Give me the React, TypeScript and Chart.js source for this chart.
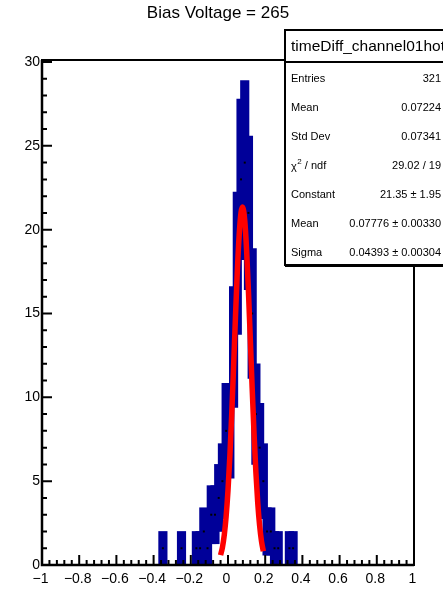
import { useEffect, useRef } from "react";
import { Chart, registerables } from "chart.js";

Chart.register(...registerables);

// ---------- data ----------
const chartTitle = "Bias Voltage = 265";
const histName = "timeDiff_channel01hot";

// histogram bins (centre of bin, entries)
const binCenters = [
  -0.35, -0.25, -0.17, -0.15, -0.13, -0.11, -0.09, -0.07, -0.05, -0.03, -0.01,
  0.01, 0.03, 0.05, 0.07, 0.09, 0.11, 0.13, 0.15, 0.17, 0.19,
  0.21, 0.23, 0.25, 0.27, 0.33, 0.35,
];
const binCounts = [
  1, 1, 1, 1, 2, 1, 3, 3, 4, 5, 8,
  8, 13, 18, 23, 24, 21, 15, 9, 7, 5,
  2, 2, 1, 1, 1, 1,
];

// gaussian fit curve
const fitX = [
  -0.04, -0.03, -0.02, -0.01, 0.0, 0.01, 0.02, 0.03, 0.04, 0.05, 0.06, 0.07,
  0.078, 0.09, 0.1, 0.11, 0.12, 0.13, 0.14, 0.15, 0.16, 0.17, 0.18, 0.19,
];
const fitY = [
  0.59, 1.05, 1.8, 2.9, 4.46, 6.49, 8.99, 11.82, 14.75, 17.49, 19.67, 21.02,
  21.35, 20.54, 18.78, 16.31, 13.45, 10.53, 7.82, 5.52, 3.7, 2.35, 1.42, 0.82,
];

const xMajorTicks = [-1, -0.8, -0.6, -0.4, -0.2, 0, 0.2, 0.4, 0.6, 0.8, 1];
const xTickLabels = ["\u22121", "\u22120.8", "\u22120.6", "\u22120.4", "\u22120.2", "0", "0.2", "0.4", "0.6", "0.8", "1"];
const yMajorTicks = [0, 5, 10, 15, 20, 25, 30];
const yTickLabels = ["0", "5", "10", "15", "20", "25", "30"];

const statLabels = ["Entries", "Mean", "Std Dev", "CHI2", "Constant", "Mean", "Sigma"];
const statValues = ["321", "0.07224", "0.07341", "29.02 / 19", "21.35 \u00b1 1.95", "0.07776 \u00b1 0.00330", "0.04393 \u00b1 0.00304"];

const FONT = '"Liberation Sans", Arial, Helvetica, sans-serif';

const overlay = {
  id: "rootOverlay",
  afterDraw(chart: any) {
    const { ctx, chartArea: a, scales } = chart;
    const xs = scales.x;
    const ys = scales.y;
    ctx.save();
    ctx.strokeStyle = "#000";
    ctx.fillStyle = "#000";
    ctx.lineCap = "butt";

    // frame
    ctx.lineWidth = 2;
    ctx.strokeRect(a.left, a.top, a.right - a.left, a.bottom - a.top);
    ctx.lineWidth = 2.5;
    ctx.beginPath();
    ctx.moveTo(a.left, a.top);
    ctx.lineTo(a.left, a.bottom);
    ctx.lineTo(a.right, a.bottom);
    ctx.stroke();

    // x ticks
    ctx.lineWidth = 2;
    ctx.beginPath();
    for (let i = 0; i < xMajorTicks.length; i++) {
      const px = xs.getPixelForValue(xMajorTicks[i]);
      ctx.moveTo(px, a.bottom);
      ctx.lineTo(px, a.bottom - 10);
      if (i < xMajorTicks.length - 1) {
        const step = (xMajorTicks[i + 1] - xMajorTicks[i]) / 5;
        for (let k = 1; k < 5; k++) {
          const mx = xs.getPixelForValue(xMajorTicks[i] + k * step);
          ctx.moveTo(mx, a.bottom);
          ctx.lineTo(mx, a.bottom - 5);
        }
      }
    }
    // y ticks
    for (let i = 0; i < yMajorTicks.length; i++) {
      const py = ys.getPixelForValue(yMajorTicks[i]);
      ctx.moveTo(a.left, py);
      ctx.lineTo(a.left + 10, py);
      if (i < yMajorTicks.length - 1) {
        const step = (yMajorTicks[i + 1] - yMajorTicks[i]) / 5;
        for (let k = 1; k < 5; k++) {
          const my = ys.getPixelForValue(yMajorTicks[i] + k * step);
          ctx.moveTo(a.left, my);
          ctx.lineTo(a.left + 5, my);
        }
      }
    }
    ctx.stroke();

    // tick labels
    ctx.font = `14px ${FONT}`;
    ctx.textAlign = "center";
    ctx.textBaseline = "middle";
    for (let i = 0; i < xMajorTicks.length; i++) {
      const px = xs.getPixelForValue(xMajorTicks[i]);
      ctx.fillText(xTickLabels[i], px - 1.5, a.bottom + 14);
    }
    ctx.textAlign = "right";
    for (let i = 0; i < yMajorTicks.length; i++) {
      const py = ys.getPixelForValue(yMajorTicks[i]);
      ctx.fillText(yTickLabels[i], a.left - 2, py);
    }

    // title
    ctx.font = `17px ${FONT}`;
    ctx.textAlign = "center";
    ctx.fillText(chartTitle, 218, 13);

    // stats box
    const bx = 285, by = 30, bw = 200, bh = 235;
    ctx.fillStyle = "#fff";
    ctx.fillRect(bx, by, bw, bh);
    ctx.strokeStyle = "#000";
    ctx.lineWidth = 2;
    ctx.strokeRect(bx, by, bw, bh);
    ctx.beginPath();
    ctx.moveTo(bx, by + bh + 1);
    ctx.lineTo(bx + bw, by + bh + 1);
    ctx.stroke();
    ctx.beginPath();
    ctx.moveTo(bx, 62);
    ctx.lineTo(bx + bw, 62);
    ctx.stroke();

    ctx.fillStyle = "#000";
    ctx.textAlign = "left";
    ctx.font = `15.5px ${FONT}`;
    ctx.fillText(histName, 291, 47);

    ctx.font = `11px ${FONT}`;
    for (let i = 0; i < statLabels.length; i++) {
      const cy = 78.5 + i * 29;
      ctx.textAlign = "left";
      if (statLabels[i] === "CHI2") {
        ctx.font = `11px ${FONT}`;
        ctx.fillText("\u03c7", 291, cy + 1);
        const w = ctx.measureText("\u03c7").width;
        ctx.font = `8px ${FONT}`;
        ctx.fillText("2", 291 + w + 0.5, cy - 4);
        ctx.font = `11px ${FONT}`;
        ctx.fillText(" / ndf", 291 + w + 5, cy);
      } else {
        ctx.fillText(statLabels[i], 291, cy);
      }
      ctx.textAlign = "right";
      ctx.fillText(statValues[i], 441, cy);
    }
    ctx.restore();
  },
};

export default function App() {
  const ref = useRef<HTMLCanvasElement | null>(null);

  useEffect(() => {
    if (!ref.current) return;
    const boxes = binCenters.map((c, i) => {
      const n = binCounts[i];
      const e = Math.sqrt(n);
      return { x: c, y: [n - e, n + e] };
    });
    const markers = binCenters.map((c, i) => ({ x: c, y: binCounts[i] }));
    const fit = fitX.map((x, i) => ({ x, y: fitY[i] }));

    const chart = new Chart(ref.current, {
      type: "bar",
      data: {
        datasets: [
          {
            type: "line",
            data: fit,
            borderColor: "#ff0000",
            borderWidth: 5.5,
            pointRadius: 0,
            cubicInterpolationMode: "monotone",
            order: 0,
          } as any,
          {
            type: "scatter",
            data: markers,
            pointStyle: "rect",
            pointRadius: 1.4,
            pointBorderWidth: 0,
            pointBackgroundColor: "#000",
            order: 1,
          } as any,
          {
            type: "bar",
            data: boxes,
            backgroundColor: "#000099",
            borderWidth: 0,
            barThickness: 8.5,
            order: 2,
          } as any,
        ],
      },
      options: {
        animation: false,
        responsive: false,
        devicePixelRatio: 1,
        layout: { padding: { left: 42, right: 29, top: 60, bottom: 24 } },
        plugins: { legend: { display: false }, tooltip: { enabled: false }, title: { display: false } },
        scales: {
          x: { type: "linear", min: -1, max: 1, display: false, offset: false },
          y: { type: "linear", min: 0, max: 30.12, display: false },
        },
      } as any,
      plugins: [overlay],
    });
    return () => chart.destroy();
  }, []);

  return (
    <div style={{ position: "absolute", left: 0, top: 0, width: 443, height: 589, background: "#fff" }}>
      <canvas ref={ref} width={443} height={589} style={{ width: 443, height: 589, display: "block" }} />
    </div>
  );
}
